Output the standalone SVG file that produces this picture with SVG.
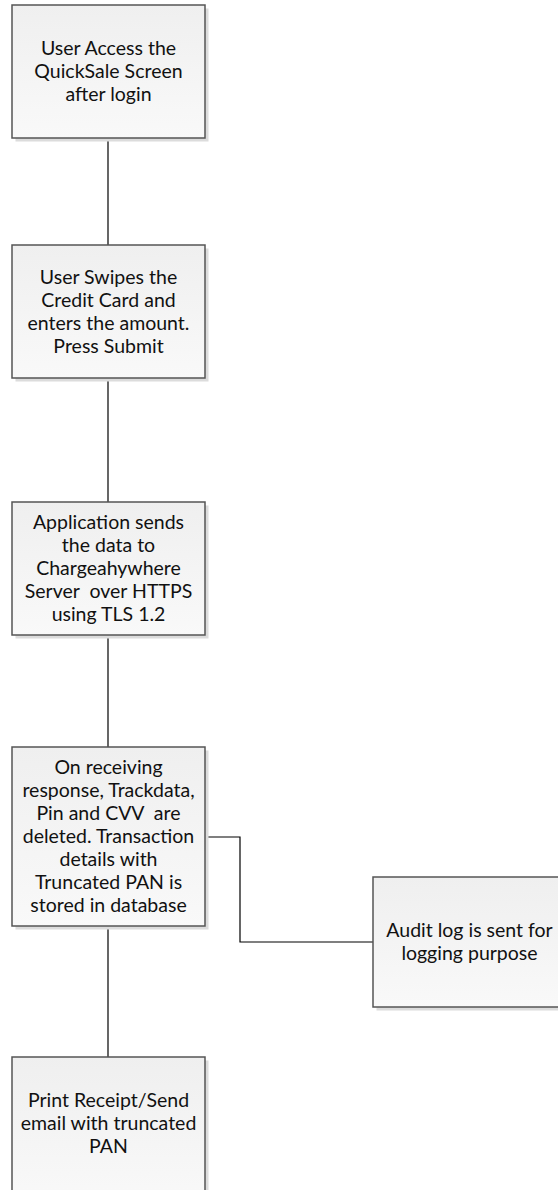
<svg xmlns="http://www.w3.org/2000/svg" width="558" height="1190" viewBox="0 0 558 1190">
<defs>
<linearGradient id="g" x1="0" y1="0" x2="0" y2="1">
<stop offset="0" stop-color="#efefef"/>
<stop offset="1" stop-color="#f9f9f9"/>
</linearGradient>
<style>
.shadow{fill:#dcdcdc;}
.box{fill:url(#g);stroke:#555;stroke-width:1.5;}
.t{font-family:Lato,"Liberation Sans",sans-serif;font-size:19.5px;fill:#111;text-anchor:middle;}
.c{fill:none;stroke:#000;stroke-width:1.2;}
</style>
</defs>
<rect width="558" height="1190" fill="#fff"/>
<g id="connectors">
<path class="c" d="M108,138V245"/>
<path class="c" d="M108,378V502"/>
<path class="c" d="M108,635V747"/>
<path class="c" d="M108,926V1057"/>
<path class="c" d="M205,837H240V942H373"/>
</g>
<g id="n1">
<rect class="shadow" x="15.5" y="8.5" width="193" height="133"/>
<rect class="box" x="12" y="5" width="193" height="133"/>
<text class="t" x="108.5" y="55">User Access the</text>
<text class="t" x="108.5" y="78">QuickSale Screen</text>
<text class="t" x="108.5" y="101">after login</text>
</g>
<g id="n2">
<rect class="shadow" x="15.5" y="248.5" width="193" height="133"/>
<rect class="box" x="12" y="245" width="193" height="133"/>
<text class="t" x="108.5" y="283.5">User Swipes the</text>
<text class="t" x="108.5" y="306.5">Credit Card and</text>
<text class="t" x="108.5" y="329.5">enters the amount.</text>
<text class="t" x="108.5" y="352.5">Press Submit</text>
</g>
<g id="n3">
<rect class="shadow" x="15.5" y="505.5" width="193" height="133"/>
<rect class="box" x="12" y="502" width="193" height="133"/>
<text class="t" x="108.5" y="529">Application sends</text>
<text class="t" x="108.5" y="552">the data to</text>
<text class="t" x="108.5" y="575">Chargeahywhere</text>
<text class="t" x="108.5" y="598" xml:space="preserve">Server  over HTTPS</text>
<text class="t" x="108.5" y="621">using TLS 1.2</text>
</g>
<g id="n4">
<rect class="shadow" x="15.5" y="750.5" width="193" height="179"/>
<rect class="box" x="12" y="747" width="193" height="179"/>
<text class="t" x="108.5" y="774">On receiving</text>
<text class="t" x="108.5" y="797">response, Trackdata,</text>
<text class="t" x="108.5" y="820" xml:space="preserve">Pin and CVV  are</text>
<text class="t" x="108.5" y="843">deleted. Transaction</text>
<text class="t" x="108.5" y="866">details with</text>
<text class="t" x="108.5" y="889">Truncated PAN is</text>
<text class="t" x="108.5" y="912">stored in database</text>
</g>
<g id="n5">
<rect class="shadow" x="376.5" y="880.5" width="193" height="130"/>
<rect class="box" x="373" y="877" width="193" height="130"/>
<text class="t" x="469.5" y="937">Audit log is sent for</text>
<text class="t" x="469.5" y="960">logging purpose</text>
</g>
<g id="n6">
<rect class="shadow" x="15.5" y="1060.5" width="193" height="145"/>
<rect class="box" x="12" y="1057" width="193" height="145"/>
<text class="t" x="108.5" y="1107">Print Receipt/Send</text>
<text class="t" x="108.5" y="1130">email with truncated</text>
<text class="t" x="108.5" y="1153">PAN</text>
</g>
</svg>
